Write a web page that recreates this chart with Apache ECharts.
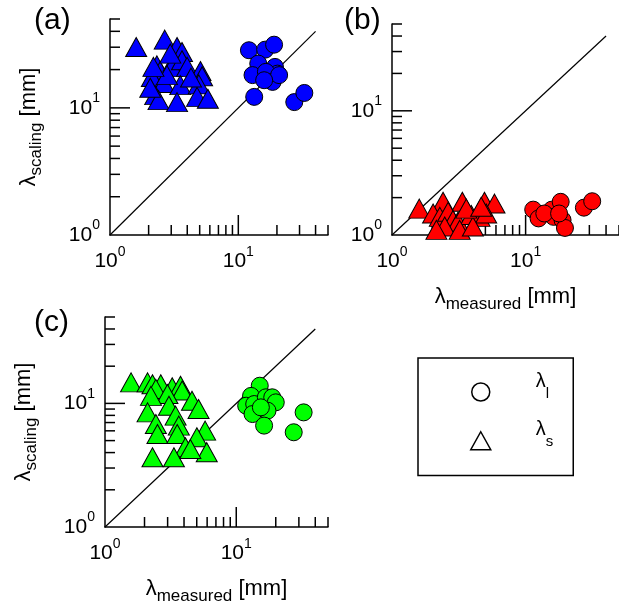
<!DOCTYPE html>
<html>
<head>
<meta charset="utf-8">
<script src="https://cdn.jsdelivr.net/npm/echarts@6/dist/echarts.min.js"></script>
<style>html,body{margin:0;padding:0;background:#fff;}#c{width:619px;height:606px;}</style>
</head>
<body>
<div id="c"></div>
<script>
// ---- data ----
const panelLabels = ['(a)', '(b)', '(c)'];
const panelColors = ['#0000ff', '#ff0000', '#00ff00'];
const diagLine = [[1, 1], [40, 40]];
const minorTickValues = [2, 3, 4, 5, 6, 7, 8, 9, 20, 30, 40, 50];
const majorTickValues = [10];
const legendNames = ['λl', 'λs'];

const aLarge = [[12.1,28.4],[16.2,28.7],[19.0,31.4],[14.3,22.3],[19.3,21.0],[20.2,18.6],[12.9,18.1],[16.4,19.2],[18.5,16.0],[13.3,12.2],[27.3,11.1],[32.7,13.1],[20.8,18.1],[15.9,16.5]];
const aSmall = [[1.60,30.1],[2.67,34.4],[3.33,30.1],[3.64,27.5],[2.32,21.6],[2.46,19.5],[3.13,23.0],[3.04,21.0],[3.64,23.7],[3.99,21.0],[5.07,19.5],[5.22,17.7],[2.12,17.5],[2.62,15.7],[3.53,15.1],[4.92,15.3],[2.25,12.6],[2.39,11.5],[3.33,11.1],[4.77,12.2],[5.79,11.8],[2.06,14.4],[4.28,17.3],[2.78,18.1],[2.95,26.7],[2.18,21.0]];

const bLarge = [[11.4,1.60],[12.5,1.36],[15.7,1.60],[16.2,1.40],[18.3,1.85],[18.9,1.32],[19.7,1.14],[27.3,1.66],[31.5,1.87],[13.8,1.49],[17.8,1.49]];
const bSmall = [[1.60,1.63],[2.41,1.85],[3.36,1.85],[4.92,1.85],[5.85,1.79],[2.03,1.49],[2.28,1.40],[2.63,1.54],[2.86,1.32],[3.12,1.28],[3.92,1.45],[4.52,1.40],[5.07,1.49],[2.48,1.17],[3.21,1.10],[4.03,1.17],[2.15,1.10],[3.60,1.63],[4.65,1.69]];

const cLarge = [[15.1,13.9],[12.96,11.5],[11.9,9.58],[13.7,9.88],[16.8,11.2],[18.8,11.2],[20.0,10.2],[17.3,8.73],[13.3,8.2],[16.3,6.61],[27.4,5.84],[32.6,8.46],[15.4,9.29]];
const cSmall = [[1.58,14.8],[2.11,14.8],[2.30,14.3],[2.66,14.3],[2.44,13.1],[3.25,13.5],[3.76,13.9],[3.87,12.7],[2.99,11.9],[2.24,11.5],[4.60,10.5],[5.16,9.0],[3.07,9.58],[2.11,8.46],[3.45,7.96],[2.44,6.81],[3.65,6.61],[5.79,6.02],[2.51,5.66],[3.55,5.66],[5.01,5.32],[4.10,4.42],[5.96,4.03],[2.30,3.67],[3.35,3.67],[4.47,4.28]];

const largeSets = [aLarge, bLarge, cLarge];
const smallSets = [aSmall, bSmall, cSmall];

// ---- layout / styles ----
const FONT = '"Liberation Sans", Arial, Helvetica, sans-serif';
const grids = [
  {left: 110, top: 19, width: 218, height: 216},
  {left: 392, top: 24, width: 227, height: 211},
  {left: 105, top: 317, width: 223, height: 210}
];
const titlePos = [{left: 34, top: 6}, {left: 344, top: 6}, {left: 34, top: 308}];
const showXName = [false, true, true];
const showYName = [true, false, true];

const labelRich = {
  b: {fontSize: 21, fontFamily: FONT, color: '#000', verticalAlign: 'middle'},
  s: {fontSize: 14, fontFamily: FONT, color: '#000', verticalAlign: 'bottom', padding: [0, 0, 19, 0]}
};
const nameRich = {
  l: {fontSize: 22, lineHeight: 22, fontFamily: FONT, color: '#000', verticalAlign: 'top'},
  sub: {fontSize: 17, lineHeight: 17, fontFamily: FONT, color: '#000', verticalAlign: 'top', padding: [10, 0, 0, 0]}
};

function powLabel(v) {
  const e = Math.log10(v);
  if (Math.abs(e - Math.round(e)) > 1e-6) return '';
  return '{b|10}{s|' + Math.round(e) + '}';
}

function makeAxis(gi, isX) {
  const show = isX ? showXName[gi] : showYName[gi];
  return {
    type: 'log', logBase: 10, gridIndex: gi, min: 1, max: 50,
    axisLine: {show: true, onZero: false, lineStyle: {color: '#000', width: 1.5}},
    axisTick: {show: false},
    minorTick: {show: false},
    splitLine: {show: false},
    axisLabel: {margin: 10, showMaxLabel: false, formatter: powLabel, rich: labelRich},
    name: show ? (isX ? '{l|λ}{sub|measured}{l| [mm]}' : '{l|λ}{sub|scaling}{l| [mm]}') : '',
    nameLocation: 'middle',
    nameGap: isX ? 51 : 70,
    nameTextStyle: {rich: nameRich}
  };
}

const xAxes = [], yAxes = [], series = [], titles = [];
function tickRender(isX) {
  return function (params, api) {
    const v = api.value(0);
    const len = majorTickValues.indexOf(v) >= 0 ? 20 : 10;
    const p = isX ? api.coord([v, 1]) : api.coord([1, v]);
    return {
      type: 'line',
      shape: isX ? {x1: p[0], y1: p[1], x2: p[0], y2: p[1] - len}
                 : {x1: p[0], y1: p[1], x2: p[0] + len, y2: p[1]},
      style: {stroke: '#000', lineWidth: 1.5},
      silent: true
    };
  };
}
const tickVals = minorTickValues.concat(majorTickValues).map(v => [v, v]);

for (let gi = 0; gi < 3; gi++) {
  xAxes.push(makeAxis(gi, true));
  yAxes.push(makeAxis(gi, false));
  titles.push({text: panelLabels[gi], left: titlePos[gi].left, top: titlePos[gi].top, padding: 0,
    textStyle: {fontSize: 30, fontWeight: 'normal', color: '#000', fontFamily: FONT}});
  series.push({type: 'custom', name: 'xt' + gi, xAxisIndex: gi, yAxisIndex: gi, data: tickVals,
    renderItem: tickRender(true), silent: true, z: 1});
  series.push({type: 'custom', name: 'yt' + gi, xAxisIndex: gi, yAxisIndex: gi, data: tickVals,
    renderItem: tickRender(false), silent: true, z: 1});
  series.push({type: 'line', name: 'diag' + gi, xAxisIndex: gi, yAxisIndex: gi, data: diagLine,
    showSymbol: false, silent: true, lineStyle: {color: '#000', width: 1.2}, z: 2});
  series.push({type: 'scatter', name: legendNames[1], xAxisIndex: gi, yAxisIndex: gi, data: smallSets[gi],
    symbol: 'triangle', symbolSize: [21, 19], clip: false,
    itemStyle: {color: panelColors[gi], borderColor: '#000', borderWidth: 1, opacity: 1}, z: 3});
  series.push({type: 'scatter', name: legendNames[0], xAxisIndex: gi, yAxisIndex: gi, data: largeSets[gi],
    symbol: 'circle', symbolSize: 17, clip: false,
    itemStyle: {color: panelColors[gi], borderColor: '#000', borderWidth: 1, opacity: 1}, z: 3});
}

const option = {
  animation: false,
  backgroundColor: '#fff',
  title: titles,
  grid: grids,
  xAxis: xAxes,
  yAxis: yAxes,
  legend: {
    left: 418, top: 358, orient: 'vertical',
    padding: [13, 20, 25, 52],
    itemGap: 18, itemWidth: 20, itemHeight: 18,
    borderColor: '#000', borderWidth: 1.5, borderRadius: 0,
    selectedMode: false,
    data: [
      {name: legendNames[0], icon: 'circle', itemStyle: {color: '#fff', borderColor: '#000', borderWidth: 1.5}},
      {name: legendNames[1], icon: 'triangle', itemStyle: {color: '#fff', borderColor: '#000', borderWidth: 1.5}}
    ],
    formatter: function (name) { return '{l|λ}{sub|' + name.slice(1) + '}'; },
    textStyle: {
      rich: {
        l: {fontSize: 20, lineHeight: 20, fontFamily: FONT, color: '#000', verticalAlign: 'top', padding: [0, 0, 0, 40]},
        sub: {fontSize: 15, lineHeight: 42, fontFamily: FONT, color: '#000', verticalAlign: 'top', padding: [15, 0, 0, 0]}
      }
    }
  },
  series: series
};

const chart = echarts.init(document.getElementById('c'), null, {renderer: 'canvas'});
chart.setOption(option);
</script>
</body>
</html>
